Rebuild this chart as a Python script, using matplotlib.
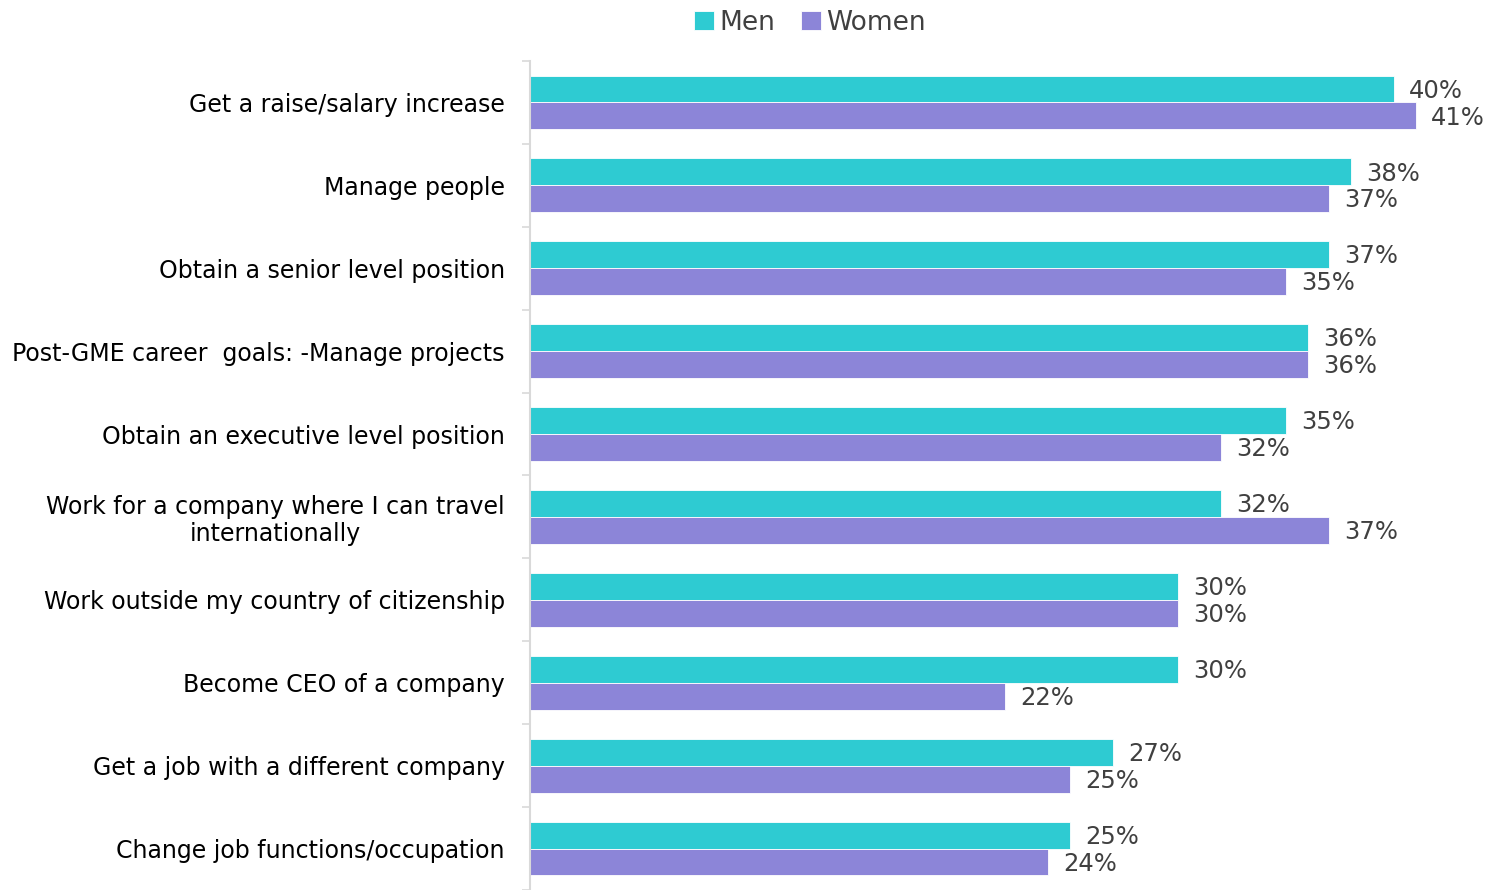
import matplotlib
matplotlib.use('Agg')
import numpy as np
import matplotlib.pyplot as plt
from matplotlib.ticker import FixedLocator

categories = ['Get a raise/salary increase',
              'Manage people',
              'Obtain a senior level position',
              'Post-GME career  goals: -Manage projects',
              'Obtain an executive level position',
              'Work for a company where I can travel\ninternationally',
              'Work outside my country of citizenship',
              'Become CEO of a company',
              'Get a job with a different company',
              'Change job functions/occupation']
men = [40, 38, 37, 36, 35, 32, 30, 30, 27, 25]
women = [41, 37, 35, 36, 32, 37, 30, 22, 25, 24]

men_color = '#2ECBD2'
women_color = '#8C85D8'
text_gray = '#404040'

plt.rcParams['font.family'] = ['DejaVu Sans']

W, H = 1489, 890
fig = plt.figure(figsize=(W / 100, H / 100), dpi=100)
ax = fig.add_axes([530 / W, 0, 950 / W, (890 - 61) / H])

y = np.arange(len(categories))
h = 0.325
ax.barh(y - h / 2, men, height=h, color=men_color, edgecolor='white', linewidth=0.6, label='Men')
ax.barh(y + h / 2, women, height=h, color=women_color, edgecolor='white', linewidth=0.6, label='Women')

for i in range(len(categories)):
    ax.text(men[i] + 0.7, y[i] - h / 2 + 0.02, f'{men[i]}%', va='center', ha='left',
            fontsize=17.5, color=text_gray)
    ax.text(women[i] + 0.7, y[i] + h / 2 + 0.02, f'{women[i]}%', va='center', ha='left',
            fontsize=17.5, color=text_gray)

ax.set_xlim(0, 950 / 21.6)
ax.set_ylim(len(categories) - 0.5, -0.5)
ax.set_xticks([])
ax.set_yticks(y)
ax.set_yticklabels(categories, fontsize=17, color='black')
for t in ax.get_yticklabels():
    t.set_multialignment('center')
    t.set_linespacing(1.15)
ax.yaxis.set_minor_locator(FixedLocator(np.arange(-0.5, len(categories), 1.0)))
ax.tick_params(axis='y', which='major', length=0, pad=18)
ax.tick_params(axis='y', which='minor', length=6, width=1.2, color='#D9D9D9')

for s in ['top', 'right', 'bottom']:
    ax.spines[s].set_visible(False)
ax.spines['left'].set_color('#D9D9D9')
ax.spines['left'].set_linewidth(1.5)

fig.legend(loc='upper center', bbox_to_anchor=(810 / W, 1.016), ncol=2, frameon=False,
           fontsize=19, handlelength=0.75, handleheight=0.75, handletextpad=0.2,
           columnspacing=1.0, labelcolor=text_gray)

fig.savefig('out.png', dpi=100)
